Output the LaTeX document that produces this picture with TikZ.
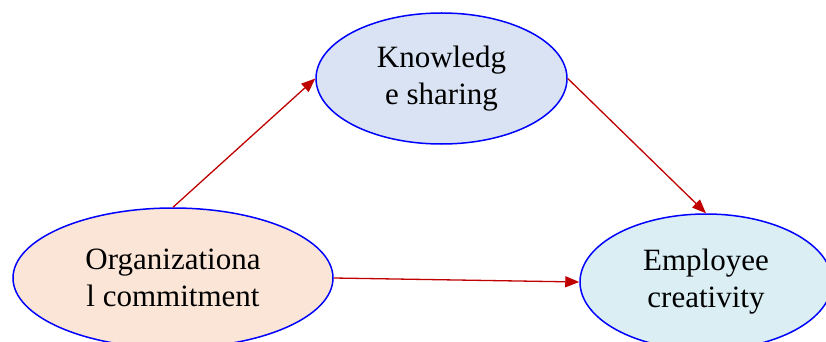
\documentclass[tikz,border=0pt]{standalone}
\usepackage{fontspec}
\setmainfont{Liberation Serif}
\usepackage{tikz}
\usetikzlibrary{shapes.geometric, arrows.meta}

\definecolor{arrred}{HTML}{C00000}
\definecolor{ksfill}{HTML}{DAE3F3}
\definecolor{ocfill}{HTML}{FBE5D6}
\definecolor{ecfill}{HTML}{DAEEF3}

\begin{document}
\begin{tikzpicture}[
    x=1pt, y=-1pt,
    var/.style={ellipse, draw=blue, line width=1.5pt, inner sep=0pt, align=center, font=\fontsize{31}{37}\selectfont},
    arr/.style={-{Triangle[length=14pt, width=11pt]}, line width=1.3pt, arrred}
]
\useasboundingbox (0,0) rectangle (826,342);

% variables
\node[var, fill=ksfill, minimum width=251pt, minimum height=131pt] (ks) at (441.5, 78.5) {Knowledg\\e sharing};
\node[var, fill=ocfill, minimum width=320pt, minimum height=140pt] (oc) at (173, 278) {Organizationa\\l commitment};
\node[var, fill=ecfill, minimum width=252pt, minimum height=136pt] (ec) at (706, 282) {Employee\\creativity};

% paths
\draw[arr] (oc.north) -- (ks.west);
\draw[arr] (ks.east) -- (ec.north);
\draw[arr] (oc.east) -- (ec.west);

\end{tikzpicture}
\end{document}
